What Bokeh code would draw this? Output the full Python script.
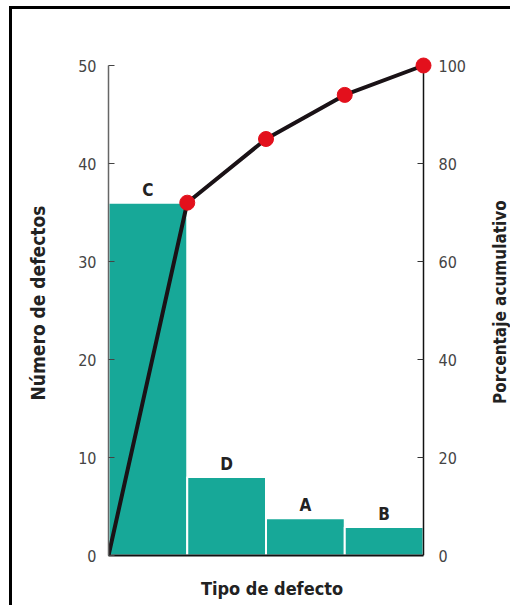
import math
from bokeh.plotting import figure
from bokeh.layouts import row
from bokeh.models import Range1d, LinearAxis, FixedTicker
from bokeh.core.properties import value
from bokeh.embed import file_html
from bokeh.resources import INLINE
import numpy as np

# Pareto data: defect types sorted by frequency
tipos = ["C", "D", "A", "B"]
defectos = [36, 8, 3.8, 2.9]
pct_acumulado = [72, 85, 94, 100]
ticks_izq = [0, 10, 20, 30, 40, 50]
ticks_der = [0, 20, 40, 60, 80, 100]
titulo_der = ["Porcentaje acumulativo"]

FONT = "DejaVu Sans Condensed"
TEAL = "#17a898"
RED = "#e3101c"
INK = "#222222"

# plot area geometry (pixels); ranges get a little headroom so the end
# marker at 100 % is drawn whole
PX_X = 78.75          # pixels per bar
PX_Y = 9.8            # pixels per defect
pad_x = 12 / PX_X
pad_y = 15 / PX_Y
n = len(tipos)
H = 596

p = figure(width=460, height=H, output_backend="svg", toolbar_location=None,
           x_range=Range1d(0, n + pad_x), y_range=Range1d(0, 50 + pad_y),
           min_border_left=96, min_border_right=37, min_border_top=41,
           min_border_bottom=50, outline_line_color=None,
           background_fill_color="white", border_fill_color="white")
p.extra_y_ranges = {"pct": Range1d(0, 100 + 2 * pad_y)}
p.grid.visible = False

# bars, one per defect type, side by side
idx = np.arange(n)
p.quad(left=idx, right=idx + 1, bottom=0, top=defectos,
       fill_color=TEAL, line_color="white", line_width=2)

# letter above each bar
p.text(x=idx + 0.5, y=defectos, text=tipos, text_align="center",
       text_baseline="alphabetic", y_offset=-13,
       text_font=value(FONT), text_font_style="bold",
       text_font_size="17px", text_color=INK)

# right-hand axis line and its inward ticks, drawn at the last bar edge
p.segment(x0=n, x1=n, y0=0, y1=100, y_range_name="pct",
          line_color="#111111", line_width=1.5)
p.segment(x0=[n] * len(ticks_der), x1=[n - 6 / PX_X] * len(ticks_der),
          y0=ticks_der, y1=ticks_der, y_range_name="pct",
          line_color="#333333", line_width=1)

# cumulative percentage line, starting at the origin
xs = np.arange(n + 1)
ys = [0] + pct_acumulado
p.line(x=xs, y=ys, y_range_name="pct", line_color="#1a1216", line_width=4)
p.scatter(x=idx + 1, y=pct_acumulado, y_range_name="pct", size=15,
          fill_color=RED, line_color=RED)

# left axis: number of defects
ax = p.yaxis[0]
ax.ticker = FixedTicker(ticks=ticks_izq)
ax.bounds = (0, 50)
ax.axis_label = "Número de defectos"
ax.axis_line_color = "#666666"
ax.axis_line_width = 1.5
ax.major_tick_in = 6
ax.major_label_standoff = 12
ax.axis_label_standoff = 26
ax.axis_label_text_font = FONT
ax.axis_label_text_font_size = "19px"
ax.axis_label_text_font_style = "bold"
ax.axis_label_text_color = INK

# right axis: percentage tick labels (line drawn above, title beside)
ar = LinearAxis(y_range_name="pct", ticker=FixedTicker(ticks=ticks_der))
p.add_layout(ar, "right")
ar.bounds = (0, 100)
ar.axis_line_color = None
ar.major_tick_in = 0
ar.major_label_standoff = 3

for a in (ax, ar):
    a.major_tick_out = 0
    a.minor_tick_in = 0
    a.minor_tick_out = 0
    a.major_tick_line_color = "#444444"
    a.major_label_text_font = FONT
    a.major_label_text_font_size = "16px"
    a.major_label_text_color = "#444444"

# bottom axis: only the baseline and its title
bx = p.xaxis[0]
bx.ticker = FixedTicker(ticks=[])
bx.bounds = (0, n)
bx.major_label_text_font_size = "0px"
bx.major_tick_in = 0
bx.major_tick_out = 0
bx.minor_tick_in = 0
bx.minor_tick_out = 0
bx.axis_line_color = "#111111"
bx.axis_line_width = 2
bx.axis_label = "Tipo de defecto"
bx.axis_label_standoff = 22
bx.axis_label_text_font = FONT
bx.axis_label_text_font_size = "18px"
bx.axis_label_text_font_style = "bold"
bx.axis_label_text_color = INK

# narrow strip holding the right-hand title, reading bottom to top;
# its ranges are in pixels of the strip
W_T = 38
t = figure(width=W_T, height=H, output_backend="svg", toolbar_location=None,
           title=None, x_range=Range1d(0, W_T), y_range=Range1d(0, H),
           min_border=0, outline_line_color=None, x_axis_type=None,
           y_axis_type=None, background_fill_color="white",
           border_fill_color="white")
t.grid.visible = False
t.text(x=[W_T - 11], y=[H - 297], text=titulo_der, angle=math.pi / 2,
       text_align="center", text_baseline="middle",
       text_font=value(FONT), text_font_size="17px",
       text_font_style="bold", text_color=INK)

# page frame around the figure (open to the right and bottom)
page = row(p, t, styles={"border-left": "3px solid black",
                         "border-top": "3px solid black",
                         "margin-left": "9px", "margin-top": "6px"})

open("out.html", "w").write(file_html(page, INLINE))
